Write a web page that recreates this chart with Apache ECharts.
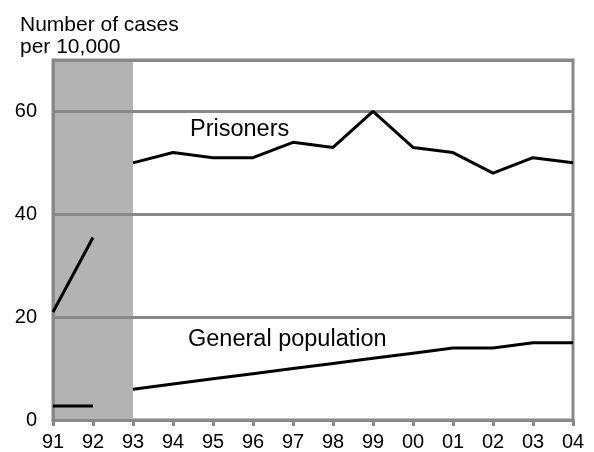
<!DOCTYPE html>
<html>
<head>
<meta charset="utf-8">
<script src="https://cdn.jsdelivr.net/npm/echarts@6/dist/echarts.min.js"></script>
<style>
  html, body { margin: 0; padding: 0; background: #fff; }
  #chart { width: 594px; height: 452px; }
</style>
</head>
<body>
<div id="chart"></div>
<script>
// years on the x axis
const years = ['91', '92', '93', '94', '95', '96', '97', '98', '99', '00', '01', '02', '03', '04']
// 91-92 (shaded period) values
const prisonersEarly = [21, 35.5]
const generalEarly = [2.7, 2.7]
// 93-04 values
const prisoners = [50, 52, 51, 51, 54, 53, 60, 53, 52, 48, 51, 50]
const general = [6, 7, 8, 9, 10, 11, 12, 13, 14, 14, 15, 15]
const yTicks = [0, 20, 40, 60]
const shaded = ['91', '93']

const fontFamily = '"Liberation Sans", Arial, sans-serif'
const gridColor = '#888888'

// pad a series so it sits on the right years
const early = (vals) => years.map((y, i) => (i < vals.length ? vals[i] : '-'))
const late = (vals) => years.map((y, i) => {
  const k = i - (years.length - vals.length)
  return k >= 0 ? vals[k] : '-'
})

const lineStyle = { color: '#000', width: 3 }
const baseLine = {
  type: 'line',
  symbol: 'none',
  z: 3,
  lineStyle: lineStyle,
  itemStyle: { color: '#000' }
}

const chart = echarts.init(document.getElementById('chart'))
chart.setOption({
  animation: false,
  textStyle: { fontFamily: fontFamily },
  title: {
    text: 'Number of cases\nper 10,000',
    left: 15,
    top: 9,
    textStyle: { fontSize: 21, lineHeight: 22, fontWeight: 'normal', color: '#000', fontFamily: fontFamily }
  },
  grid: {
    left: 53,
    right: 21,
    top: 60,
    bottom: 32,
    show: true,
    borderColor: gridColor,
    borderWidth: 3
  },
  xAxis: {
    type: 'category',
    data: years,
    boundaryGap: false,
    z: 1.5,
    axisLine: { lineStyle: { color: gridColor, width: 3 } },
    axisTick: { show: true, length: 6, lineStyle: { color: gridColor, width: 3 } },
    axisLabel: { color: '#000', fontSize: 20, margin: 12, interval: 0, fontFamily: fontFamily },
    splitLine: { show: false }
  },
  yAxis: {
    type: 'value',
    min: 0,
    max: 70,
    interval: 20,
    z: 1.5,
    axisLine: { show: true, lineStyle: { color: gridColor, width: 3 } },
    axisTick: { show: false },
    axisLabel: {
      color: '#000',
      fontSize: 20,
      margin: 16,
      fontFamily: fontFamily,
      formatter: (v) => (yTicks.indexOf(v) >= 0 ? String(v) : '')
    },
    splitLine: { show: true, lineStyle: { color: gridColor, width: 3 } }
  },
  graphic: [
    {
      type: 'text',
      left: 190,
      top: 118,
      style: { text: 'Prisoners', fontSize: 23.5, fill: '#000', fontFamily: fontFamily }
    },
    {
      type: 'text',
      left: 188,
      top: 328,
      style: { text: 'General population', fontSize: 23.5, fill: '#000', fontFamily: fontFamily }
    }
  ],
  series: [
    {
      ...baseLine,
      name: 'Prisoners 91-92',
      data: early(prisonersEarly),
      markArea: {
        silent: true,
        z: 1,
        itemStyle: { color: '#b3b3b3' },
        data: [[{ xAxis: shaded[0] }, { xAxis: shaded[1] }]]
      }
    },
    { ...baseLine, name: 'Prisoners', data: late(prisoners) },
    { ...baseLine, name: 'General population 91-92', data: early(generalEarly) },
    { ...baseLine, name: 'General population', data: late(general) }
  ]
})
</script>
</body>
</html>
